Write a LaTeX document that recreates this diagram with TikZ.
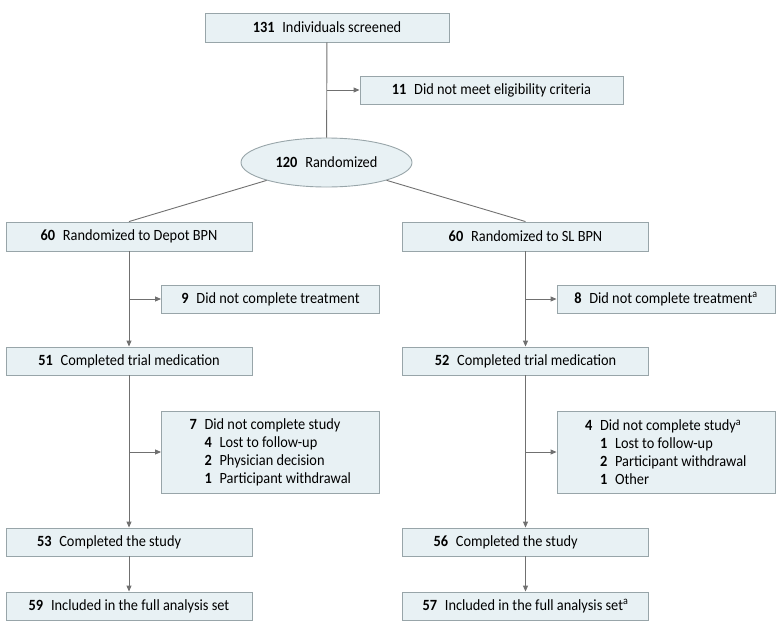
\documentclass[tikz,border=0pt]{standalone}
\usepackage{fontspec}
\setmainfont{Carlito}[FakeStretch=0.92]
\usepackage{tikz}
\usetikzlibrary{arrows.meta,shapes.geometric}
\definecolor{boxfill}{HTML}{E8F1F4}
\definecolor{boxline}{HTML}{98A5A9}
\definecolor{linegray}{HTML}{707070}

\begin{document}
\begin{tikzpicture}[
        x=1pt,y=-1pt,
        font=\fontsize{15.6}{18}\selectfont,
        box/.style={rectangle,draw=boxline,fill=boxfill,line width=0.9pt,inner sep=0pt,minimum height=28pt},
        mainbox/.style={box,minimum width=246pt},
        sidebox/.style={box,minimum width=218pt},
        leftbox/.style={box,text width=184pt,inner xsep=31pt,align=flush left},
        listbox/.style={box,minimum height=82pt,text width=204pt,inner xsep=7pt,align=flush left},
        oval/.style={ellipse,draw=boxline,fill=boxfill,line width=0.9pt,minimum width=171pt,minimum height=49pt,inner sep=0pt},
        link/.style={draw=linegray,line width=0.9pt},
        arrow/.style={link,-{Triangle[length=6pt,width=5pt]}}
    ]
        \useasboundingbox (0,0) rectangle (783,634);

        % Enrollment
        \node[box,minimum width=244pt,minimum height=29pt] (screen) at (327,27.5) {\textbf{131}\enspace Individuals screened};
        \node[box,minimum width=263pt] (excl) at (491.5,90) {\textbf{11}\enspace Did not meet eligibility criteria};
        \node[oval] (rand) at (326.5,162.5) {\textbf{120}\enspace Randomized};

        % Depot BPN arm
        \node[mainbox,minimum height=29pt] (depot) at (129,236.5) {\textbf{60}\enspace Randomized to Depot BPN};
        \node[sidebox] (depotnt) at (270.5,299) {\textbf{9}\enspace Did not complete treatment};
        \node[mainbox] (depotmed) at (129,361) {\textbf{51}\enspace Completed trial medication};
        \node[listbox] (depotns) at (270.5,452) {\hspace*{21pt}\textbf{7}\enspace Did not complete study\\
            \hspace*{36pt}\textbf{4}\enspace Lost to follow-up\\
            \hspace*{36pt}\textbf{2}\enspace Physician decision\\
            \hspace*{36pt}\textbf{1}\enspace Participant withdrawal};
        \node[leftbox] (depotdone) at (129,542) {\textbf{53}\enspace Completed the study};
        \node[mainbox] (depotfas) at (129,606) {\textbf{59}\enspace Included in the full analysis set};

        % SL BPN arm
        \node[mainbox,minimum height=29pt] (sl) at (525.5,236.5) {\textbf{60}\enspace Randomized to SL BPN};
        \node[sidebox] (slnt) at (666,299) {\textbf{8}\enspace Did not complete treatment\textsuperscript{a}};
        \node[mainbox] (slmed) at (525.5,361) {\textbf{52}\enspace Completed trial medication};
        \node[listbox] (slns) at (666,452) {\hspace*{21pt}\textbf{4}\enspace Did not complete study\textsuperscript{a}\\
            \hspace*{36pt}\textbf{1}\enspace Lost to follow-up\\
            \hspace*{36pt}\textbf{2}\enspace Participant withdrawal\\
            \hspace*{36pt}\textbf{1}\enspace Other};
        \node[leftbox] (sldone) at (525.5,542) {\textbf{56}\enspace Completed the study};
        \node[mainbox] (slfas) at (525.5,606) {\textbf{57}\enspace Included in the full analysis set\textsuperscript{a}};

        % Connectors
        \draw[link] (screen) -- (rand);
        \draw[arrow] (screen.south |- excl) -- (excl);
        \draw[link] (rand) -- (depot.north);
        \draw[link] (rand) -- (sl.north);

        \draw[arrow] (depot) -- (depotmed);
        \draw[arrow] (depot.south |- depotnt) -- (depotnt);
        \draw[arrow] (depotmed) -- (depotdone);
        \draw[arrow] (depotmed.south |- depotns) -- (depotns);
        \draw[arrow] (depotdone) -- (depotfas);

        \draw[arrow] (sl) -- (slmed);
        \draw[arrow] (sl.south |- slnt) -- (slnt);
        \draw[arrow] (slmed) -- (sldone);
        \draw[arrow] (slmed.south |- slns) -- (slns);
        \draw[arrow] (sldone) -- (slfas);
    \end{tikzpicture}
\end{document}
